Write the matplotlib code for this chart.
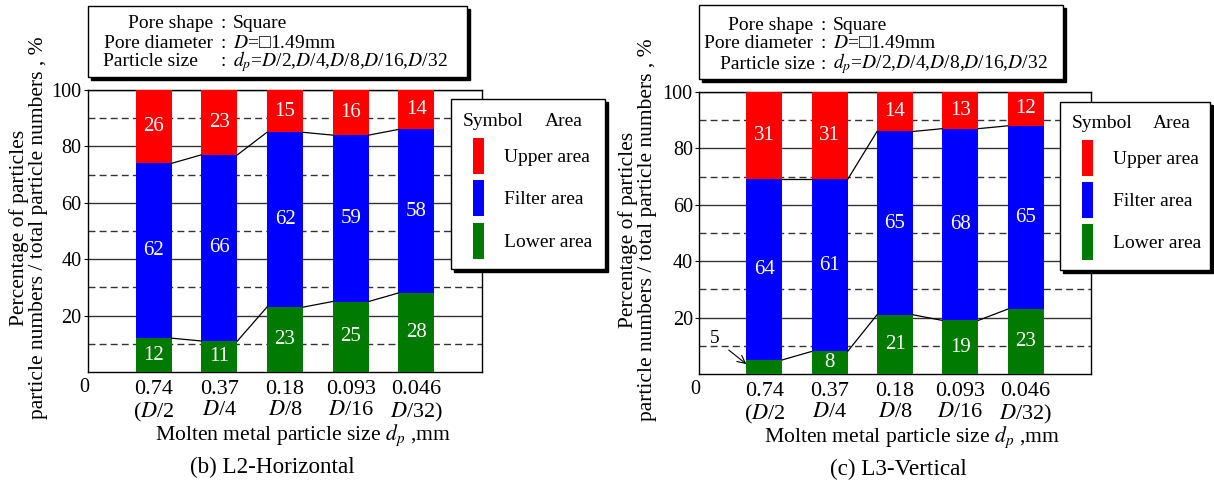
import numpy as np
import matplotlib
matplotlib.use("Agg")
import matplotlib.pyplot as plt
from matplotlib.patches import Rectangle

plt.rcParams["font.family"] = ["Liberation Serif", "DejaVu Serif"]
plt.rcParams["mathtext.fontset"] = "stix"

# data
size_mm = ["0.74", "0.37", "0.18", "0.093", "0.046"]
size_frac = ["($D$/2", "$D$/4", "$D$/8", "$D$/16", "$D$/32)"]

lower_h = [12, 11, 23, 25, 28]
filter_h = [62, 66, 62, 59, 58]
upper_h = [26, 23, 15, 16, 14]

lower_v = [5, 8, 21, 19, 23]
filter_v = [64, 61, 65, 68, 65]
upper_v = [31, 31, 14, 13, 12]

area_names = ["Upper area", "Filter area", "Lower area"]
area_colors = ["#ff0000", "#0000ff", "#007a00"]

W, H = 1214, 486
fig = plt.figure(figsize=(W / 100, H / 100), dpi=100)
fig.patch.set_facecolor("white")


def fx(x):
    return x / W


def fy(y):
    return 1 - y / H


def panel(box, lower, filt, upper, caption, ylab_x, xlab_x, cap_x, mark_five=False):
    x0, y0, x1, y1 = box
    ax = fig.add_axes([fx(x0), fy(y1), fx(x1) - fx(x0), fy(y0) - fy(y1)])
    x = np.arange(len(size_mm))
    w = 0.55
    lower = np.array(lower)
    filt = np.array(filt)
    upper = np.array(upper)
    ax.bar(x, lower, w, color=area_colors[2], zorder=3)
    ax.bar(x, filt, w, bottom=lower, color=area_colors[1], zorder=3)
    ax.bar(x, upper, w, bottom=lower + filt, color=area_colors[0], zorder=3)

    # connecting lines between bars
    for b in (lower, lower + filt):
        for i in range(len(x) - 1):
            ax.plot([x[i] + w / 2, x[i + 1] - w / 2], [b[i], b[i + 1]],
                    color="black", lw=0.9, zorder=4)

    # values inside segments
    for i in range(len(x)):
        segs = [(lower[i], 0), (filt[i], lower[i]), (upper[i], lower[i] + filt[i])]
        for j, (v, base) in enumerate(segs):
            if mark_five and j == 0 and v < 6:
                continue
            ax.text(x[i], base + v / 2, str(v), color="white", ha="center",
                    va="center", fontsize=15, zorder=5)

    if mark_five:
        ax.annotate(str(lower[0]), xy=(x[0] - w / 2, 3.5), xytext=(-0.76, 12.5),
                    ha="center", va="center", fontsize=14,
                    arrowprops=dict(arrowstyle="->", color="black", lw=0.8,
                                    shrinkA=6, shrinkB=0))

    ax.set_xlim(-1, 5)
    ax.set_ylim(0, 100)
    ax.set_yticks([20, 40, 60, 80, 100])
    ax.set_yticks([10, 30, 50, 70, 90], minor=True)
    ax.yaxis.grid(True, which="major", color="#333333", lw=1, ls="-", zorder=0)
    ax.yaxis.grid(True, which="minor", color="#333333", lw=1, ls=(0, (5, 3)), zorder=0)
    ax.tick_params(axis="y", which="major", length=3, pad=1.5, labelsize=14.5)
    ax.tick_params(axis="y", which="minor", length=0)
    ax.set_xticks(x)
    ax.set_xticklabels([a + "\n" + b for a, b in zip(size_mm, size_frac)],
                       fontsize=16, linespacing=1.1)
    ax.tick_params(axis="x", length=0, pad=6)
    ax.set_axisbelow(True)
    for s in ax.spines.values():
        s.set_linewidth(1)

    ax.annotate("0", xy=(0, 0), xycoords="axes fraction", xytext=(-3, -11),
                textcoords="offset points", ha="center", va="center", fontsize=14.5)
    ax.text(ylab_x, 0.51, "Percentage of particles\nparticle numbers / total particle numbers , %",
            transform=ax.transAxes, rotation=90, ha="center", va="center",
            multialignment="center", fontsize=15.5, linespacing=1.05)
    ax.text(xlab_x, -0.225, "Molten metal particle size $d_p$ ,mm", transform=ax.transAxes,
            ha="center", va="center", fontsize=15.6)
    ax.text(cap_x, -0.34, caption, transform=ax.transAxes, ha="center", va="center",
            fontsize=16.7)
    return ax


def shadow_box(x0, y0, x1, y1, sh=3):
    fig.add_artist(Rectangle((fx(x0 + sh), fy(y1 + sh)), fx(x1 - x0), fy(y0) - fy(y1),
                             transform=fig.transFigure, facecolor="black",
                             edgecolor="black", zorder=10))
    fig.add_artist(Rectangle((fx(x0), fy(y1)), fx(x1 - x0), fy(y0) - fy(y1),
                             transform=fig.transFigure, facecolor="white",
                             edgecolor="black", lw=1, zorder=11))


def info_box(box, rows, colon_x, val_x):
    shadow_box(*box)
    for label, lx, ha, y in rows:
        fig.text(fx(lx), fy(y), label, ha=ha, va="center", fontsize=14, zorder=12)
        fig.text(fx(colon_x), fy(y), ":", ha="center", va="center", fontsize=14, zorder=12)
    vals = ["Square", "$D$=\u25a11.49mm", "$d_p$=$D$/2,$D$/4,$D$/8,$D$/16,$D$/32"]
    for (label, lx, ha, y), v in zip(rows, vals):
        fig.text(fx(val_x), fy(y), v, ha="left", va="center", fontsize=14, zorder=12)


def legend_box(box, sym_x, area_x, patch_x, label_x, header_y, patch_tops):
    shadow_box(*box)
    fig.text(fx(sym_x), fy(header_y), "Symbol", ha="left", va="center", fontsize=14, zorder=12)
    fig.text(fx(area_x), fy(header_y), "Area", ha="left", va="center", fontsize=14, zorder=12)
    for name, c, top in zip(area_names, area_colors, patch_tops):
        fig.add_artist(Rectangle((fx(patch_x), fy(top + 36)), fx(11), fy(top) - fy(top + 36),
                                 transform=fig.transFigure, facecolor=c,
                                 edgecolor="none", zorder=12))
        fig.text(fx(label_x), fy(top + 19), name, ha="left", va="center", fontsize=14, zorder=12)


panel((88, 90, 482, 372), lower_h, filter_h, upper_h, "(b) L2-Horizontal",
      ylab_x=-0.151, xlab_x=0.546, cap_x=0.467)
panel((699, 92, 1091, 374), lower_v, filter_v, upper_v, "(c) L3-Vertical",
      ylab_x=-0.157, xlab_x=0.543, cap_x=0.508, mark_five=True)

info_box((88, 6, 467, 77),
         [("Pore shape", 213, "right", 23), ("Pore diameter", 213, "right", 43),
          ("Particle size", 103, "left", 62)], 223, 233)
info_box((699, 5, 1063, 79),
         [("Pore shape", 813, "right", 25), ("Pore diameter", 813, "right", 44),
          ("Particle size", 815, "right", 64)], 823, 833)

legend_box((451, 99, 605, 269), 463, 545, 473, 504, 121, [138, 180, 223])
legend_box((1060, 102, 1210, 270), 1072, 1153, 1082, 1113, 123, [140, 182, 224])

fig.savefig("out.png", dpi=100, facecolor="white")
